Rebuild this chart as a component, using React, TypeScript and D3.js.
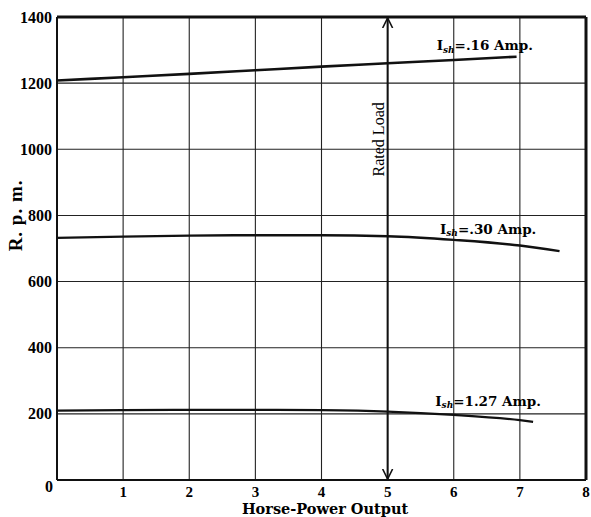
import * as d3 from "d3";
import { useRef, useEffect } from "react";

// x ticks (horse-power) and y ticks (r.p.m.)
const hpTicks = [0, 1, 2, 3, 4, 5, 6, 7, 8];
const rpmTicks = [0, 200, 400, 600, 800, 1000, 1200, 1400];

// curves
const hp016 = [0, 1, 2, 3, 4, 5, 6, 6.95];
const rpm016 = [1208, 1218, 1228, 1239, 1250, 1260, 1270, 1280];

const hp030 = [0, 1, 2, 3, 4, 5, 6, 7, 7.6];
const rpm030 = [732, 736, 739, 740, 740, 737, 726, 709, 692];

const hp127 = [0, 1, 2, 3, 4, 5, 6, 7, 7.2];
const rpm127 = [210, 211, 212, 212, 211, 207, 197, 181, 176];

const seriesLabels = ["=.16 Amp.", "=.30 Amp.", "=1.27 Amp."];
const ratedLoad = 5;

const FONT = "'Liberation Serif', 'DejaVu Serif', serif";
const WIDE = "'DejaVu Serif', 'Liberation Serif', serif";

export default function App() {
  const svgRef = useRef<SVGSVGElement | null>(null);
  const width = 591;
  const height = 517;
  const marginLeft = 57;
  const marginRight = 5;
  const marginTop = 17;
  const marginBottom = 37;

  useEffect(() => {
    if (!svgRef.current) return;
    const svg = d3.select(svgRef.current);
    svg.selectAll("*").remove();

    const x = d3.scaleLinear().domain([0, 8]).range([marginLeft, width - marginRight]);
    const y = d3.scaleLinear().domain([0, 1400]).range([height - marginBottom, marginTop]);

    svg.append("rect").attr("width", width).attr("height", height).attr("fill", "#fff");

    // grid
    svg
      .append("g")
      .selectAll("line")
      .data(hpTicks.slice(1, -1))
      .join("line")
      .attr("x1", (d) => x(d))
      .attr("x2", (d) => x(d))
      .attr("y1", y(0))
      .attr("y2", y(1400))
      .attr("stroke", "#222")
      .attr("stroke-width", 1.1);

    svg
      .append("g")
      .selectAll("line")
      .data(rpmTicks.slice(1, -1))
      .join("line")
      .attr("x1", x(0))
      .attr("x2", x(8))
      .attr("y1", (d) => y(d))
      .attr("y2", (d) => y(d))
      .attr("stroke", "#222")
      .attr("stroke-width", 1.1);

    // frame
    const frame = svg.append("g").attr("stroke", "#111").attr("fill", "none");
    frame.append("line").attr("x1", x(0)).attr("x2", x(8)).attr("y1", y(1400)).attr("y2", y(1400)).attr("stroke-width", 3);
    frame.append("line").attr("x1", x(8)).attr("x2", x(8)).attr("y1", y(1400)).attr("y2", y(0)).attr("stroke-width", 3);
    frame.append("line").attr("x1", x(0)).attr("x2", x(0)).attr("y1", y(1400)).attr("y2", y(0)).attr("stroke-width", 2);
    frame.append("line").attr("x1", x(0)).attr("x2", x(8)).attr("y1", y(0)).attr("y2", y(0)).attr("stroke-width", 2.2);

    // tick labels
    svg
      .append("g")
      .selectAll("text")
      .data(rpmTicks.slice(1))
      .join("text")
      .attr("x", x(0) - 5)
      .attr("y", (d) => y(d) + 5.5)
      .attr("text-anchor", "end")
      .attr("font-family", FONT)
      .attr("font-weight", "bold")
      .attr("font-size", 16)
      .text((d) => d);

    svg
      .append("text")
      .attr("x", x(0) - 8)
      .attr("y", y(0) + 12)
      .attr("text-anchor", "middle")
      .attr("font-family", FONT)
      .attr("font-weight", "bold")
      .attr("font-size", 16)
      .text("0");

    svg
      .append("g")
      .selectAll("text")
      .data(hpTicks.slice(1))
      .join("text")
      .attr("x", (d) => x(d))
      .attr("y", y(0) + 16.5)
      .attr("text-anchor", "middle")
      .attr("font-family", FONT)
      .attr("font-weight", "bold")
      .attr("font-size", 15)
      .text((d) => d);

    // axis titles
    svg
      .append("text")
      .attr("x", 325)
      .attr("y", height - 3)
      .attr("text-anchor", "middle")
      .attr("font-family", WIDE)
      .attr("font-weight", "bold")
      .attr("font-size", 14.5)
      .text("Horse-Power Output");

    svg
      .append("text")
      .attr("transform", `translate(22,${y(800)}) rotate(-90)`)
      .attr("text-anchor", "middle")
      .attr("font-family", FONT)
      .attr("font-weight", "bold")
      .attr("font-size", 19)
      .attr("letter-spacing", 1)
      .text("R. p. m.");

    // rated load arrow
    const defs = svg.append("defs");
    defs
      .append("marker")
      .attr("id", "arr")
      .attr("viewBox", "0 0 10 10")
      .attr("refX", 10)
      .attr("refY", 5)
      .attr("markerWidth", 10)
      .attr("markerHeight", 14)
      .attr("markerUnits", "userSpaceOnUse")
      .attr("orient", "auto-start-reverse")
      .append("path")
      .attr("d", "M0,0 L10,5 L0,10")
      .attr("fill", "none")
      .attr("stroke", "#111")
      .attr("stroke-width", 1.6);

    svg
      .append("line")
      .attr("x1", x(ratedLoad))
      .attr("x2", x(ratedLoad))
      .attr("y1", y(1400) + 1)
      .attr("y2", y(0) - 1)
      .attr("stroke", "#111")
      .attr("stroke-width", 2)
      .attr("marker-start", "url(#arr)")
      .attr("marker-end", "url(#arr)");

    svg
      .append("text")
      .attr("transform", `translate(${x(ratedLoad) - 4},${y(1030)}) rotate(-90)`)
      .attr("text-anchor", "middle")
      .attr("font-family", FONT)
      .attr("font-size", 16)
      .text("Rated Load");

    // curves
    const line = d3
      .line<[number, number]>()
      .x((d) => x(d[0]))
      .y((d) => y(d[1]))
      .curve(d3.curveMonotoneX);

    const series = [
      { hp: hp016, rpm: rpm016, w: 2.6, lx: 6.47, ly: 1300 },
      { hp: hp030, rpm: rpm030, w: 2.4, lx: 6.52, ly: 744 },
      { hp: hp127, rpm: rpm127, w: 2.2, lx: 6.52, ly: 224 },
    ];

    series.forEach((s, i) => {
      const pts = s.hp.map((h, j) => [h, s.rpm[j]] as [number, number]);
      svg
        .append("path")
        .datum(pts)
        .attr("fill", "none")
        .attr("stroke", "#111")
        .attr("stroke-width", s.w)
        .attr("d", line);

      const t = svg
        .append("text")
        .attr("x", x(s.lx))
        .attr("y", y(s.ly))
        .attr("text-anchor", "middle")
        .attr("font-family", WIDE)
        .attr("font-weight", "bold")
        .attr("font-size", 13.5);
      t.append("tspan").text("I");
      t.append("tspan")
        .attr("font-style", "italic")
        .attr("font-size", 9)
        .attr("dy", 2.5)
        .text("sh");
      t.append("tspan").attr("dy", -2.5).text(seriesLabels[i]);
    });
  }, []);

  return (
    <svg
      ref={svgRef}
      width={width}
      height={height}
      style={{ position: "absolute", left: 0, top: 0 }}
    ></svg>
  );
}
